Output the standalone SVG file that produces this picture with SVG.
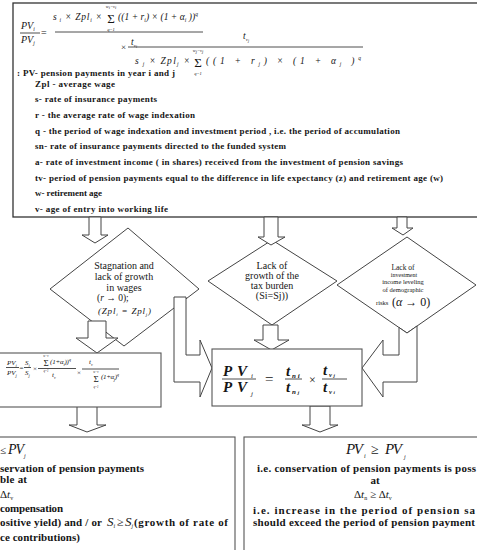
<svg xmlns="http://www.w3.org/2000/svg" width="477" height="550" viewBox="0 0 477 550">
<style>
text{font-family:"Liberation Serif","Times New Roman",serif;fill:#151515}
.lg{font-size:9px;font-weight:bold}
.dt{font-size:10px;text-anchor:middle}
.fi{font-style:italic}
.bt{font-size:11px;font-weight:bold}
.mid{text-anchor:middle}
.box{fill:#fff;stroke:#555;stroke-width:1.1}
.dia{fill:#fff;stroke:#444;stroke-width:1}
.bar{stroke:#222;stroke-width:0.8}
.arr{fill:#fff;stroke:#444;stroke-width:1;stroke-linejoin:miter}
</style>
<rect width="477" height="550" fill="#fff"/>

<g id="top-box">
<rect x="13" y="3" width="470" height="214" fill="#fff" stroke="#333" stroke-width="1.3"/>
<text x="21" y="29" class="fi" font-size="10">PV<tspan font-size="5.5" dy="2">i</tspan></text>
<line class="bar" x1="20" y1="33" x2="40" y2="33"/>
<text x="21" y="43" class="fi" font-size="10">PV<tspan font-size="5.5" dy="2">j</tspan></text>
<text x="41" y="36" font-size="10">=</text>
<text x="53" y="20" class="fi" font-size="9.5" textLength="49">s<tspan font-size="5.5" dy="2"> i</tspan><tspan dy="-2"> × Zpl</tspan><tspan font-size="5.5" dy="2">i</tspan><tspan dy="-2"> ×</tspan></text>
<text x="111" y="23" class="mid" font-size="13">Σ</text>
<text x="111" y="8" class="mid fi" font-size="4.5">w<tspan dy="1">i</tspan><tspan dy="-1">−v</tspan><tspan dy="1">i</tspan></text>
<text x="111" y="31" class="mid fi" font-size="4.5">q=1</text>
<text x="118" y="20" class="fi" font-size="9.5" textLength="80">((1 + r<tspan font-size="5.5" dy="2">i</tspan><tspan dy="-2">) × (1 + α</tspan><tspan font-size="5.5" dy="2">i</tspan><tspan dy="-2"> ))</tspan><tspan font-size="5.5" dy="-4">q</tspan></text>
<line class="bar" x1="55" y1="32" x2="203" y2="32"/>
<text x="131" y="45" class="fi" font-size="9.5">t<tspan font-size="5" dy="2">v</tspan><tspan font-size="4" dy="1">i</tspan></text>
<text x="121" y="50" font-size="9">×</text>
<text x="243" y="39" class="fi" font-size="9.5">t<tspan font-size="5" dy="2">v</tspan><tspan font-size="4" dy="1">j</tspan></text>
<line class="bar" x1="128" y1="47" x2="363" y2="47"/>
<text x="135" y="64" class="fi" font-size="9.5" textLength="55">s<tspan font-size="5.5" dy="2"> j</tspan><tspan dy="-2"> × Zpl</tspan><tspan font-size="5.5" dy="2">j</tspan><tspan dy="-2"> ×</tspan></text>
<text x="198" y="66.5" class="mid" font-size="13">Σ</text>
<text x="198" y="52" class="mid fi" font-size="4.5">w<tspan dy="1">j</tspan><tspan dy="-1">−v</tspan><tspan dy="1">j</tspan></text>
<text x="198" y="74.5" class="mid fi" font-size="4.5">q=1</text>
<text x="206" y="64" class="fi" font-size="9.5" textLength="155">((1 + r<tspan font-size="5.5" dy="2">j</tspan><tspan dy="-2">) × (1 + α</tspan><tspan font-size="5.5" dy="2">j</tspan><tspan dy="-2"> )</tspan><tspan font-size="5.5" dy="-4">q</tspan></text>
<text x="17" y="76" class="lg" textLength="158">: PV- pension payments in year i and j</text>
<text x="35" y="86.5" class="lg" textLength="80">Zpl - average wage</text>
<text x="35" y="102" class="lg" textLength="122">s- rate of insurance payments</text>
<text x="35" y="118" class="lg" textLength="160">r - the average rate of wage indexation</text>
<text x="35" y="134" class="lg" textLength="365">q - the period of wage indexation and investment period , i.e. the period of accumulation</text>
<text x="35" y="149" class="lg" textLength="251">sn- rate of insurance payments directed to the funded system</text>
<text x="35" y="165" class="lg" textLength="368">a- rate of investment income ( in shares) received from the investment of pension savings</text>
<text x="35" y="181" class="lg" textLength="408">tv- period of pension payments equal to the difference in life expectancy (z) and retirement age (w)</text>
<text x="35" y="196" class="lg" textLength="67">w- retirement age</text>
<text x="35" y="212" class="lg" textLength="133">v- age of entry into working life</text>
</g>

<g id="diamond-wages">
<polygon class="dia" points="128,228 199,289 124,346 50,289"/>
<text x="124" y="269" class="dt">Stagnation and</text>
<text x="124" y="280" class="dt">lack of growth</text>
<text x="124" y="290.5" class="dt">in wages</text>
<text x="97" y="301" font-size="9.5">(<tspan class="fi">r</tspan> → 0);</text>
<text x="98" y="314" class="fi" font-size="9" textLength="53">(Zpl<tspan font-size="5" dy="1.5">i</tspan><tspan dy="-1.5"> = Zpl</tspan><tspan font-size="5" dy="1.5">j</tspan><tspan dy="-1.5">)</tspan></text>
</g>

<g id="diamond-tax">
<polygon class="dia" points="272,240 337,281 272,325 208,281"/>
<text x="272" y="268.5" class="dt" font-size="9.2">Lack of</text>
<text x="272" y="278.8" class="dt" font-size="9.2">growth of the</text>
<text x="272" y="289.1" class="dt" font-size="9.2">tax burden</text>
<text x="272" y="299.4" class="dt" font-size="9.2">(Si=Sj))</text>
</g>

<g id="diamond-investment">
<polygon class="dia" points="407,237 476,285 407,333 337,285"/>
<text x="403" y="270" class="mid" font-size="7.5">Lack of</text>
<text x="404" y="276.5" class="mid" font-size="6">investment</text>
<text x="403" y="284" class="mid" font-size="6.5">income leveling</text>
<text x="403" y="292" class="mid" font-size="6.5">of demographic</text>
<text x="376" y="305" font-size="6.5">risks</text>
<text x="392" y="306" font-size="12">(<tspan class="fi">α</tspan> → 0)</text>
</g>

<g id="connectors">
<path class="arr" d="M89,217 H101 V235 H108 L95,243 L82,235 H89 Z"/>
<path class="arr" d="M264,217 H278 V237 H285 L271,245 L258,237 H264 Z"/>
<path class="arr" d="M397,217 H407 V228 H413 L403,235 L392,228 H397 Z"/>
<path class="arr" d="M88,321 H106 V338 H118 L97,353 L76,338 H88 Z"/>
<path class="arr" d="M174,297 H186 V355 H200 V340 L212,368 L200,397 V382 H174 Z"/>
<path class="arr" d="M263,325 H278 V340 H289 L271.5,350 L254,340 H263 Z"/>
<path class="arr" d="M407,333 L399,327.5 V355 H383 V340 L362,368 L383,397 V382 H417 V326 Z"/>
<path class="arr" d="M77,406 H97 V425 H106 L87,432 L69,425 H77 Z"/>
<path class="arr" d="M310,406 H330 V425 H338 L320,432 L302,425 H310 Z"/>
</g>

<g id="formula-left">
<rect class="box" x="-1" y="353" width="162" height="54"/>
<text x="7" y="365" class="fi" font-size="7">PV<tspan font-size="4.5" dy="1.5">i</tspan></text>
<line class="bar" x1="6" y1="367.5" x2="19" y2="367.5" stroke-width="0.6"/>
<text x="7" y="375" class="fi" font-size="7">PV<tspan font-size="4.5" dy="1.5">j</tspan></text>
<text x="19.5" y="370" font-size="7">=</text>
<text x="25" y="365" class="fi" font-size="7">S<tspan font-size="4.5" dy="1.5">i</tspan></text>
<line class="bar" x1="24" y1="367.5" x2="31" y2="367.5" stroke-width="0.6"/>
<text x="25" y="375" class="fi" font-size="7">S<tspan font-size="4.5" dy="1.5">j</tspan></text>
<text x="33" y="370.5" font-size="7">×</text>
<text x="46" y="366" class="mid" font-size="9">Σ</text>
<text x="46" y="357" class="mid fi" font-size="3">w−v</text>
<text x="46" y="371.5" class="mid fi" font-size="3">q=1</text>
<text x="50" y="364" class="fi" font-size="7" textLength="21">(1+α<tspan font-size="4.5" dy="1.5">i</tspan><tspan dy="-1.5">))</tspan><tspan font-size="4.5" dy="-3">q</tspan></text>
<line class="bar" x1="38" y1="368.5" x2="76" y2="368.5" stroke-width="0.6"/>
<text x="52" y="377" class="fi" font-size="7">t<tspan font-size="4" dy="1.5">v</tspan></text>
<text x="77" y="375" font-size="7">×</text>
<text x="89" y="364" class="fi" font-size="7">t<tspan font-size="4" dy="1.5">v</tspan></text>
<line class="bar" x1="82" y1="369" x2="119" y2="369" stroke-width="0.6"/>
<text x="96" y="382" class="mid" font-size="9">Σ</text>
<text x="96" y="373" class="mid fi" font-size="3">w−v</text>
<text x="96" y="387.5" class="mid fi" font-size="3">q=1</text>
<text x="101" y="379" class="fi" font-size="7" textLength="18">(1+α<tspan font-size="4.5" dy="1.5">j</tspan><tspan dy="-1.5">)</tspan><tspan font-size="4.5" dy="-3">q</tspan></text>
</g>

<g id="formula-mid">
<rect class="box" x="212" y="349" width="150" height="57"/>
<text x="223" y="376" class="fi" font-size="15" font-weight="bold" textLength="24">PV</text>
<text x="251" y="378" class="fi" font-size="7">i</text>
<line class="bar" x1="222" y1="379" x2="256" y2="379" stroke-width="1"/>
<text x="223" y="392" class="fi" font-size="15" font-weight="bold" textLength="24">PV</text>
<text x="251" y="396" class="fi" font-size="7">j</text>
<text x="265" y="384" font-size="15">=</text>
<text x="286" y="376" class="fi" font-size="15" font-weight="bold">t</text>
<text x="292" y="378" class="fi" font-size="7" font-weight="bold">n i</text>
<line class="bar" x1="285" y1="379" x2="302" y2="379" stroke-width="1"/>
<text x="286" y="392" class="fi" font-size="15" font-weight="bold">t</text>
<text x="292" y="394" class="fi" font-size="7" font-weight="bold">n <tspan font-size="5">j</tspan></text>
<text x="309" y="384" font-size="12">×</text>
<text x="323" y="375" class="fi" font-size="15" font-weight="bold">t</text>
<text x="329" y="377" class="fi" font-size="6.5" font-weight="bold">v <tspan font-size="5">j</tspan></text>
<line class="bar" x1="322" y1="379" x2="347" y2="379" stroke-width="1"/>
<text x="323" y="392" class="fi" font-size="15" font-weight="bold">t</text>
<text x="329" y="394" class="fi" font-size="6.5" font-weight="bold">v <tspan font-size="5">i</tspan></text>
</g>

<g id="result-left">
<rect class="box" x="-5" y="437" width="240" height="120"/>
<text x="0" y="454" font-size="11">≤</text>
<text x="8" y="454" class="fi" font-size="14" textLength="16">PV</text>
<text x="24" y="458" class="fi" font-size="6">j</text>
<text x="0" y="472" class="bt" textLength="144">servation of pension payments</text>
<text x="0" y="483" class="bt" textLength="27">ble at</text>
<text x="0" y="498" font-size="11">Δ<tspan class="fi">t</tspan><tspan font-size="6" dy="2">v</tspan></text>
<text x="0" y="512" class="bt" textLength="63">compensation</text>
<text x="0" y="526" class="bt" textLength="102">ositive yield) and / or</text>
<text x="107" y="526" class="fi" font-size="13">S<tspan font-size="6" dy="2">i</tspan></text>
<text x="117" y="526" font-size="12">≥</text>
<text x="125" y="526" class="fi" font-size="13">S<tspan font-size="6" dy="2">j</tspan></text>
<text x="134" y="526" class="bt" textLength="94">(growth of rate of</text>
<text x="0" y="541" class="bt" textLength="80">ce contributions)</text>
</g>

<g id="result-right">
<rect class="box" x="244" y="437" width="240" height="120"/>
<text x="346" y="454" class="fi" font-size="15" textLength="17">PV</text>
<text x="364" y="458" class="fi" font-size="6">i</text>
<text x="371" y="454" font-size="14">≥</text>
<text x="385" y="454" class="fi" font-size="15" textLength="17">PV</text>
<text x="404" y="459" class="fi" font-size="6">j</text>
<text x="257" y="472" class="bt" textLength="219">i.e. conservation of pension payments is poss</text>
<text x="375" y="484" class="bt mid">at</text>
<text x="354" y="498" font-size="11">Δ<tspan class="fi">t</tspan><tspan font-size="6" dy="2">n</tspan><tspan dy="-2"> ≥ Δ</tspan><tspan class="fi">t</tspan><tspan font-size="6" dy="2">v</tspan></text>
<text x="253" y="514" class="bt" textLength="222">i.e.  increase  in  the  period  of  pension  sa</text>
<text x="253" y="526" class="bt" textLength="222">should exceed the period of pension payment</text>
</g>
</svg>
